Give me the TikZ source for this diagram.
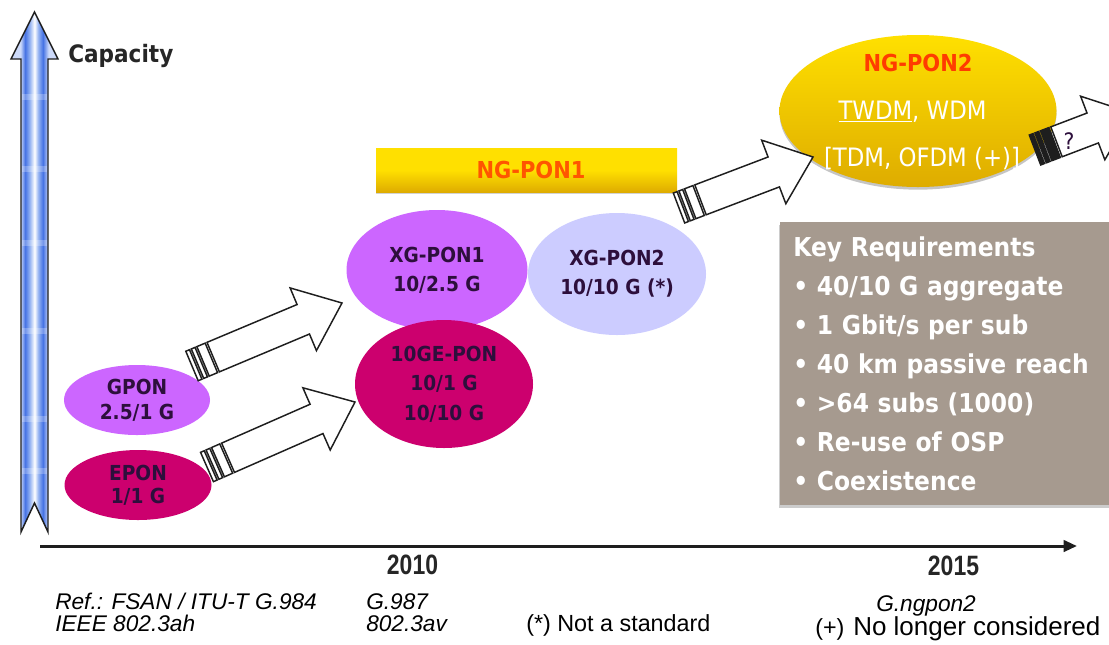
\documentclass[tikz,border=0pt]{standalone}
\usepackage{fontspec}
\usetikzlibrary{shapes.geometric,arrows.meta,shadows}

\newfontfamily\tah[FakeStretch=0.9]{DejaVu Sans}
\newfontfamily\arialf{Liberation Sans}
\newfontfamily\arialn[FakeStretch=0.82]{Liberation Sans}

\definecolor{ponviolet}{RGB}{204,102,255}
\definecolor{ponmagenta}{RGB}{204,0,110}
\definecolor{ponlav}{RGB}{204,204,255}
\definecolor{labelink}{RGB}{45,15,60}
\definecolor{goldtop}{RGB}{255,224,0}
\definecolor{goldbot}{RGB}{222,172,0}
\definecolor{ngred}{RGB}{255,60,0}
\definecolor{ngorange}{RGB}{255,85,0}
\definecolor{taupe}{RGB}{166,154,143}
\definecolor{inkline}{RGB}{30,30,30}
\definecolor{capL}{RGB}{205,218,250}
\definecolor{capB}{RGB}{70,115,228}
\definecolor{capM}{RGB}{150,180,242}

% left-to-right texture of the capacity arrow
\pgfdeclarehorizontalshading{capshade}{100bp}{%
  color(0bp)=(capL); color(35bp)=(capL); color(40bp)=(capB);
  color(45bp)=(capM); color(50bp)=(white); color(54bp)=(capM);
  color(59bp)=(capB); color(65bp)=(capL); color(100bp)=(capL)}

\tikzset{
  ell/.style={ellipse, inner sep=0pt, text=labelink, align=center},
  arrowline/.style={draw=inkline, line width=1.1pt, line join=miter},
  lbl/.style={font=\tah\bfseries\fontsize{15.5}{19}\selectfont},
  refit/.style={font=\arialf\itshape\fontsize{17}{20}\selectfont, anchor=base west, inner sep=0pt},
  refup/.style={font=\arialf\fontsize{17.5}{20}\selectfont, anchor=base west, inner sep=0pt},
  year/.style={font=\arialn\bfseries\fontsize{21}{24}\selectfont, inner sep=0pt, text=black!85},
}

% striped block arrow from tail coordinate #1 to tip coordinate #2, stripes filled with #3
\newcommand\blockarrow[3]{%
  \path (#1); \pgfgetlastxy{\baX}{\baY}%
  \path (#2); \pgfgetlastxy{\bbX}{\bbY}%
  \pgfmathsetmacro\baAng{atan2(\bbY-\baY,\bbX-\baX)}%
  \pgfmathsetmacro\baLen{veclen(\bbX-\baX,\bbY-\baY)/0.75}%
  \begin{scope}[shift={(#1)},rotate=\baAng,x=0.75pt,y=0.75pt]
    \filldraw[arrowline, fill=#3] (0,-16) rectangle (4,16)
      (6,-16) rectangle (10,16) (12,-16) rectangle (21,16);
    \filldraw[arrowline, fill=white] (23,-16) -- ({\baLen-42},-16)
      -- ({\baLen-42},-34) -- (\baLen,0) -- ({\baLen-42},34)
      -- ({\baLen-42},16) -- (23,16) -- cycle;
  \end{scope}}

\begin{document}
\begin{tikzpicture}[x=0.75pt,y=-0.75pt]
\useasboundingbox (0,0) rectangle (1109,644);
\clip (0,0) rectangle (1109,644);
\fill[white] (0,0) rectangle (1109,644);

% capacity axis
\shade[shading=capshade, draw=inkline, line width=1.1pt, line join=miter]
  (34.5,12) -- (58,59) -- (48,59) -- (48,532) -- (34.5,503)
  -- (21,532) -- (21,59) -- (11,59) -- cycle;
\foreach \yy in {94,166,240,328,416,468}
  \fill[white, opacity=0.25] (22,\yy) rectangle (47,\yy+6);
\node[font=\tah\bfseries\fontsize{18}{20}\selectfont, anchor=base west, inner sep=0pt, text=black!85]
  (cap) at (68,62) {Capacity};

% NG-PON1 banner
\node[rectangle, minimum width=301*0.75pt, minimum height=44*0.75pt, inner sep=0pt,
      top color=goldtop, bottom color=goldbot, middle color=goldtop,
      drop shadow={shadow xshift=0pt, shadow yshift=-1.5pt, opacity=0.35}]
  (ngpon1) at (526.5,170) {};
\node[font=\tah\bfseries\fontsize{17.5}{20}\selectfont, text=ngorange, anchor=base, inner sep=0pt]
  (ngpon1t) at (531,178.5) {NG-PON1};

% technology ellipses
\node[ell, lbl, fill=ponviolet, minimum width=146*0.75pt, minimum height=70*0.75pt]
  (gpon) at (137,400) {GPON\\2.5/1 G};
\node[ell, lbl, fill=ponmagenta, minimum width=147*0.75pt, minimum height=70*0.75pt,
      font=\tah\bfseries\fontsize{15.5}{17.5}\selectfont]
  (epon) at (138,485) {EPON\\1/1 G};
\node[ell, lbl, fill=ponlav, minimum width=178*0.75pt, minimum height=122*0.75pt,
      font=\tah\bfseries\fontsize{15.5}{21.75}\selectfont]
  (xgpon2) at (617,274) {XG-PON2\\10/10 G (*)};
\node[ell, lbl, fill=ponviolet, minimum width=181*0.75pt, minimum height=120*0.75pt,
      font=\tah\bfseries\fontsize{15.5}{21.75}\selectfont]
  (xgpon1) at (437,270) {XG-PON1\\10/2.5 G};
\node[ell, lbl, fill=ponmagenta, minimum width=178*0.75pt, minimum height=128*0.75pt,
      font=\tah\bfseries\fontsize{15.5}{22}\selectfont]
  (tengepon) at (444,384) {10GE-PON\\10/1 G\\10/10 G};

% NG-PON2 ellipse
\node[ellipse, minimum width=277*0.75pt, minimum height=152*0.75pt, inner sep=0pt,
      top color=goldtop, bottom color=goldbot,
      drop shadow={shadow xshift=0pt, shadow yshift=-2pt, opacity=0.45}]
  (ngpon2) at (918,111) {};
\node[font=\tah\bfseries\fontsize{17.5}{20}\selectfont, text=ngred, anchor=base, inner sep=0pt]
  (ngpon2t) at (918,71.5) {NG-PON2};
\node[font=\tah\fontsize{19}{22}\selectfont, text=white, anchor=base, inner sep=0pt]
  (ngpon2a) at (912.5,119) {\underline{TWDM}, WDM};
\node[font=\tah\fontsize{19}{22}\selectfont, text=white, anchor=base, inner sep=0pt]
  (ngpon2b) at (922,166) {[TDM, OFDM (+)]};

% key requirements panel
\node[rectangle, fill=taupe, anchor=west, minimum height=283*0.75pt,
      inner xsep=13*0.75pt, inner ysep=0pt, text width=232.5pt, align=left,
      text=white, font=\tah\bfseries\fontsize{19.5}{29.25}\selectfont,
      drop shadow={shadow xshift=-1pt, shadow yshift=-2pt, opacity=0.4}]
  (keyreq) at (780,363.5)
  {Key Requirements\\
   • 40/10 G aggregate\\
   • 1 Gbit/s per sub\\
   • 40 km passive reach\\
   • >64 subs (1000)\\
   • Re-use of OSP\\
   • Coexistence};

% evolution arrows
\coordinate (a1s) at (192,366);  \coordinate (a1e) at (342,303);
\coordinate (a2s) at (207,467);  \coordinate (a2e) at (355,402);
\coordinate (a3s) at (679,208);  \coordinate (a3e) at (813,157);
\coordinate (a4s) at (1035,150); \coordinate (a4e) at (1132,113);
\blockarrow{a1s}{a1e}{white}
\blockarrow{a2s}{a2e}{white}
\blockarrow{a3s}{a3e}{white}
\blockarrow{a4s}{a4e}{inkline}
\node[font=\tah\fontsize{17}{19}\selectfont, text=labelink, inner sep=0pt] (qmark) at (1069,141) {?};

% time axis
\coordinate (t0) at (40,546);
\coordinate (t1) at (1077,546);
\draw[line width=2.25pt, draw=inkline, -{Triangle[length=10pt,width=8.5pt]}] (t0) -- (t1);
\node[year] (y2010) at (412.5,565) {2010};
\node[year] (y2015) at (953.5,566) {2015};

% references
\node[refit] (r1) at (55,609) {Ref.: FSAN / ITU-T G.984};
\node[refit] (r2) at (55,631) {IEEE 802.3ah};
\node[refit] (r3) at (366,609) {G.987};
\node[refit] (r4) at (366,631) {802.3av};
\node[refup] (r5) at (526,631) {(*) Not a standard};
\node[refit] (r6) at (876,611) {G.ngpon2};
\node[refup] (r7) at (815,635) {(+)};
\node[refup, font=\arialf\fontsize{19.5}{21}\selectfont] (r8) at (853,635) {No longer considered};
\end{tikzpicture}
\end{document}
